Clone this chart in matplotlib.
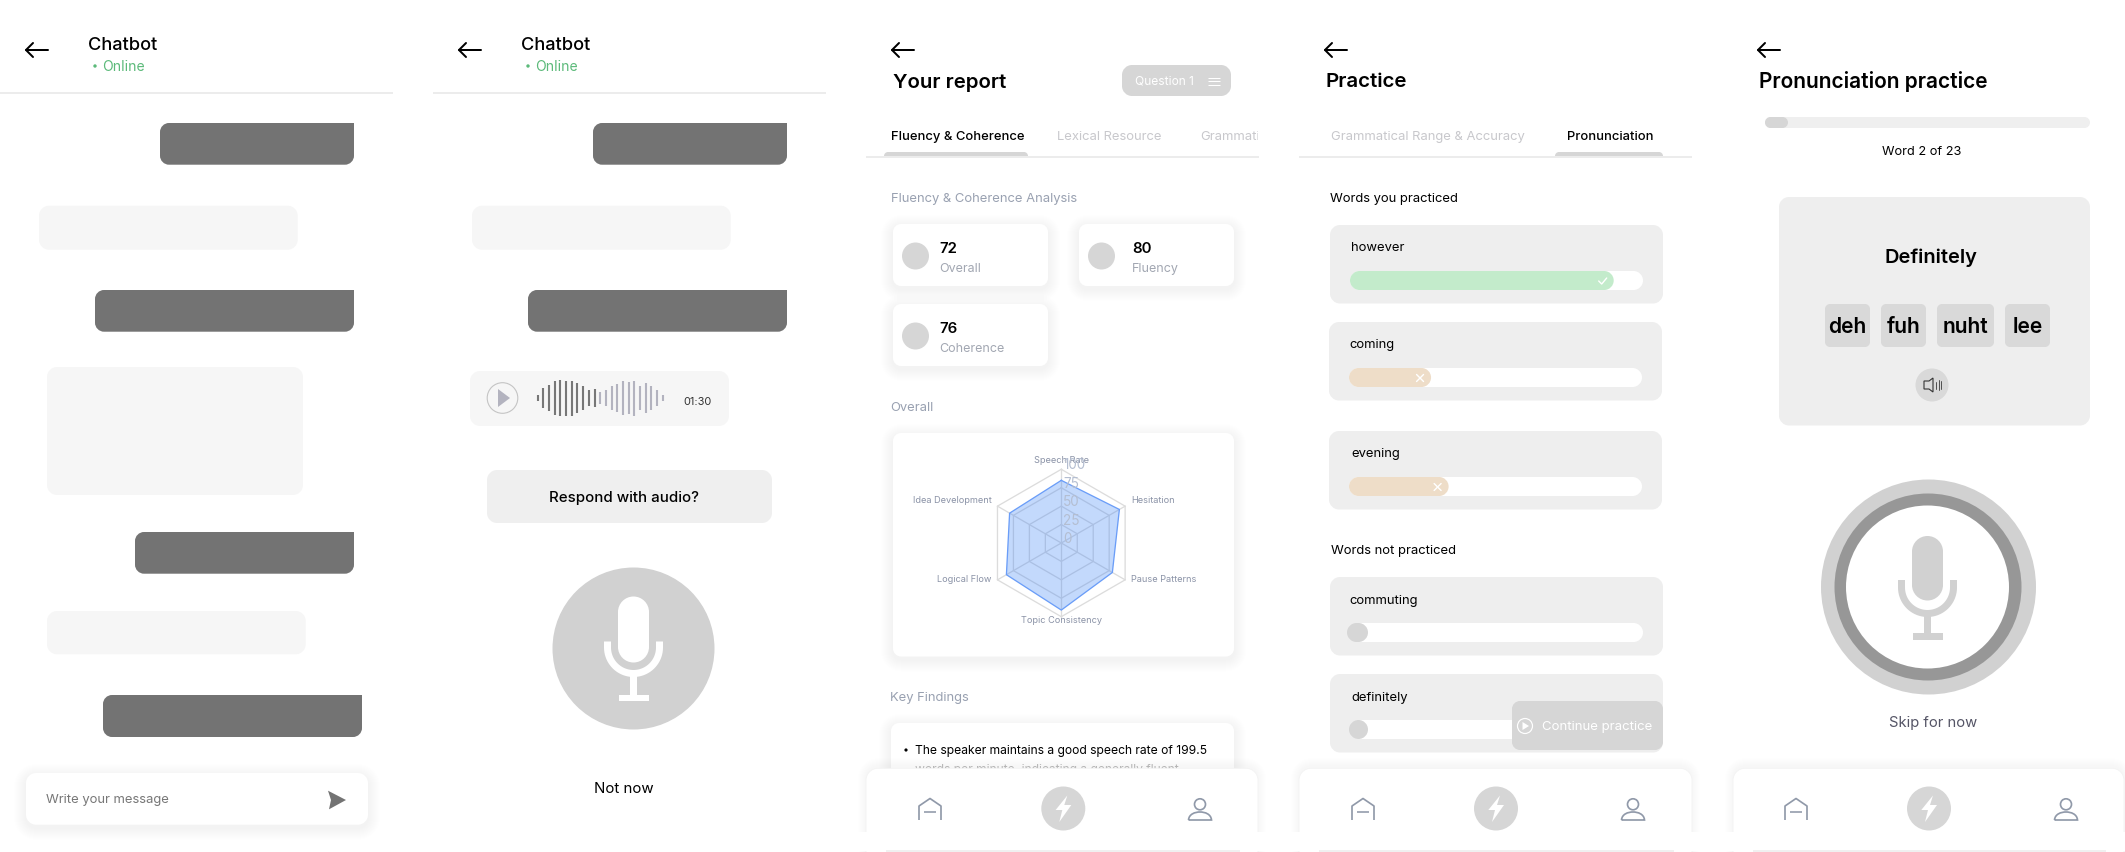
import numpy as np
import matplotlib
matplotlib.use("Agg")
import matplotlib.pyplot as plt
from matplotlib.path import Path
from matplotlib.patches import PathPatch, Circle, Rectangle

plt.rcParams['font.family'] = ['Inter', 'DejaVu Sans']

# ---------- data ----------
RADAR_LABELS = ["Speech Rate", "Hesitation", "Pause Patterns", "Topic Consistency", "Logical Flow", "Idea Development"]
RADAR_VALUES = [85, 91, 80, 91, 86, 81]
RADAR_TICKS = [0, 25, 50, 75, 100]
METRIC_LABELS = ["Overall", "Fluency", "Coherence"]
METRIC_VALUES = [72, 80, 76]
WORDS_PRACTICED = ["however", "coming", "evening"]
WORD_SCORES = [90, 28, 34]
WORDS_NOT_PRACTICED = ["commuting", "definitely"]
SYLLABLES = ["deh", "fuh", "nuht", "lee"]
WAVE_DARK = [20, 58, 80, 100, 110, 105, 105, 90, 70, 50, 55]
WAVE_LIGHT = [35, 50, 70, 85, 100, 95, 105, 70, 90, 70, 50, 20]

W, H = 2125, 852
fig = plt.figure(figsize=(W / 100, H / 100), dpi=100, facecolor='white')
ax = fig.add_axes([0, 0, 1, 1])
ax.set_xlim(0, W)
ax.set_ylim(H, 0)
ax.axis('off')

PX = 0.72
GRAY = '#d6d6d6'
DARK = '#737373'
LIGHT = '#f6f6f6'
CARD = '#eeeeee'
TEXT_DY = 2.3


def rpath(x0, y0, x1, y1, r, square=()):
    v, c = [], []
    rs = {n: (0 if n in square else r) for n in ('tl', 'tr', 'br', 'bl')}
    def k_(n):
        return rs[n] * (1 - 0.5523)
    v.append((x0 + rs['tl'], y0)); c.append(Path.MOVETO)
    v.append((x1 - rs['tr'], y0)); c.append(Path.LINETO)
    v += [(x1 - k_('tr'), y0), (x1, y0 + k_('tr')), (x1, y0 + rs['tr'])]; c += [Path.CURVE4] * 3
    v.append((x1, y1 - rs['br'])); c.append(Path.LINETO)
    v += [(x1, y1 - k_('br')), (x1 - k_('br'), y1), (x1 - rs['br'], y1)]; c += [Path.CURVE4] * 3
    v.append((x0 + rs['bl'], y1)); c.append(Path.LINETO)
    v += [(x0 + k_('bl'), y1), (x0, y1 - k_('bl')), (x0, y1 - rs['bl'])]; c += [Path.CURVE4] * 3
    v.append((x0, y0 + rs['tl'])); c.append(Path.LINETO)
    v += [(x0, y0 + k_('tl')), (x0 + k_('tl'), y0), (x0 + rs['tl'], y0)]; c += [Path.CURVE4] * 3
    v.append((x0 + rs['tl'], y0)); c.append(Path.CLOSEPOLY)
    return Path(v, c)


def box(x0, y0, x1, y1, r=8, fc=CARD, z=2, square=()):
    p = PathPatch(rpath(x0, y0, x1, y1, r, square), fc=fc, ec='none', lw=0, zorder=z)
    ax.add_patch(p)
    return p


def shadow(x0, y0, x1, y1, r=8, z=1, spread=12, dy=3, a=0.005):
    for i in range(spread, 0, -1):
        ax.add_patch(PathPatch(rpath(x0 - i, y0 - i + dy, x1 + i, y1 + i + dy, r + i),
                               fc='#20283c', ec='none', alpha=a, zorder=z))


def card(x0, y0, x1, y1, r=8, z=2, **kw):
    shadow(x0, y0, x1, y1, r, z=z - 0.5, **kw)
    box(x0, y0, x1, y1, r, 'white', z)


def t(x, y, s, px, color='black', weight='normal', ha='left', z=5, **kw):
    return ax.text(x, y + TEXT_DY, s, fontsize=px * PX, color=color, fontweight=weight,
                   ha=ha, va='center', zorder=z, **kw)


def line(xs, ys, color='black', w=2, z=5, cap='round', join='round'):
    ax.plot(xs, ys, color=color, lw=w * PX, zorder=z, solid_capstyle=cap, solid_joinstyle=join)


def circ(cx, cy, r, fc, z=3, ec='none', lw=0):
    ax.add_patch(Circle((cx, cy), r, fc=fc, ec=ec, lw=lw * PX, zorder=z))


def poly(pts, fc, z=5):
    ax.add_patch(plt.Polygon(pts, closed=True, fc=fc, ec='none', zorder=z))


def back(x0):
    y = 50
    line([x0 + 22, x0], [y, y], 'black', 2)
    line([x0 + 7, x0, x0 + 7], [y - 7, y, y + 7], 'black', 2)


def mic(cx, cap_top, cap_bot, u_top, u_cy, stem_bot, base_w, base_h, color, z=6):
    capw = 31
    box(cx - capw / 2, cap_top, cx + capw / 2, cap_bot, capw / 2, color, z)
    R = 26
    th = np.radians(np.linspace(180, 0, 40))
    xs = np.r_[cx - R, cx + R * np.cos(th), cx + R]
    ys = np.r_[u_top, u_cy + R * np.sin(th), u_top]
    ax.plot(xs, ys, color=color, lw=7 * PX, zorder=z, solid_capstyle='butt')
    u_bot = u_cy + R
    ax.add_patch(Rectangle((cx - 3.5, u_bot), 7, stem_bot - u_bot, fc=color, ec='none', zorder=z))
    ax.add_patch(Rectangle((cx - base_w / 2, stem_bot), base_w, base_h, fc=color, ec='none', zorder=z))


def nav(x0, x1, hx, bx, px_):
    shadow(x0, 768.3, x1, 860, 12, z=9.5, spread=8, dy=-2, a=0.004)
    ax.add_patch(PathPatch(rpath(x0, 768.3, x1, 870, 12), fc='white', ec='#f3f3f3', lw=0.6, zorder=10))
    ax.add_patch(Rectangle((x0 - 10, 832.3), x1 - x0 + 20, 19, fc='white', ec='none', zorder=11))
    line([x0 + 20, x1 - 18], [851, 851], '#ececec', 1.5, z=12, cap='butt')
    c = '#9099a9'
    # home
    line([hx, hx, hx + 11, hx + 22, hx + 22], [820, 806, 798.5, 806, 820], c, 1.7, z=12, cap='butt')
    line([hx + 5, hx + 17], [811.7, 811.7], c, 1.6, z=12, cap='butt')
    # bolt
    circ(bx, 808.5, 22, GRAY, z=12)
    poly([(bx + 4, 795.5), (bx - 7.7, 810), (bx - 1, 810), (bx - 4, 822), (bx + 8, 805), (bx + 1, 805)], 'white', z=13)
    # person
    ax.add_patch(Circle((px_, 804.3), 5.5, fc='none', ec=c, lw=1.7 * PX, zorder=12))
    v = [(px_ - 11.5, 820), (px_ + 11.5, 820), (px_ + 11, 814), (px_ + 5, 812), (px_, 812),
         (px_ - 5, 812), (px_ - 11, 814), (px_ - 11.5, 820)]
    cc = [Path.MOVETO, Path.LINETO] + [Path.CURVE4] * 6
    ax.add_patch(PathPatch(Path(v, cc), fc='none', ec=c, lw=1.7 * PX, zorder=12))


# ---------- panels 1 and 2: chat ----------
for off, in [(0,), (433,)]:
    back(26 + off)
    t(88.3 + off, 43, "Chatbot", 18.2, 'black', 500)
    circ(95 + off, 66, 1.7, '#5cba7a')
    t(101.7 + off, 64.8, "Online", 14, '#5cba7a')
    line([off, off + 393], [92.7, 92.7], '#ececec', 2, cap='butt')
    box(160 + off, 123, 354 + off, 164.7, 9, DARK, square=('tr',))
    box(39 + off, 205.7, 297.7 + off, 249.7, 10, LIGHT)
    box(95 + off, 290, 354 + off, 331.7, 9, DARK, square=('tr',))

box(47, 367, 303, 495, 10, LIGHT)
box(135, 532, 354, 573.7, 9, DARK, square=('tr',))
box(47, 611, 305.7, 654.3, 10, LIGHT)
box(103, 695, 362, 737, 9, DARK, square=('tr',))
card(26, 773, 368, 824.7, 10)
t(46, 797.5, "Write your message", 13, '#777777')
poly([(328, 790.7), (346, 800), (329, 809.3), (331, 800)], DARK)

# audio message
box(470, 371, 729, 426, 10, LIGHT)
circ(502.5, 398, 15.3, LIGHT, ec='#c4c4c4', lw=1.1)
poly([(498, 389), (510, 398), (498, 407)], '#b3b3bf', z=5)
all_wave = WAVE_DARK + WAVE_LIGHT
for i, h in enumerate(all_wave):
    xw = 537.7 + i * (662.7 - 537.7) / (len(all_wave) - 1)
    ax.plot([xw, xw], [398 - h / 6, 398 + h / 6], color='#777777' if i < len(WAVE_DARK) else '#b3b3bf',
            lw=2.1 * PX, zorder=5, solid_capstyle='butt')
t(698, 399.5, "01:30", 11, '#333333', ha='center')
box(487, 470, 772, 523, 10, '#efefef')
t(624, 495.5, "Respond with audio?", 15, 'black', 500, ha='center')
circ(633.5, 648.5, 81, '#d1d1d1')
mic(633.5, 596.5, 662.5, 641.5, 647.5, 694.5, 30, 6, 'white')
t(624, 787, "Not now", 15, 'black', ha='center')

# ---------- panel 3: report ----------
back(892)
t(893, 80.5, "Your report", 20.4, 'black', 600)
box(1122, 65, 1231, 96, 10, GRAY)
t(1135, 79, "Question 1", 12, 'white')
for yy in (77.5, 81, 84.5):
    line([1208, 1220], [yy, yy], 'white', 1, cap='butt')
t(891, 135, "Fluency & Coherence", 13, 'black', 500)
t(1057, 135, "Lexical Resource", 13, '#c8c8cc')
txt = t(1200, 135, "Grammatical", 13, '#c8c8cc')
txt.set_clip_on(True)
txt.set_clip_path(Rectangle((866, 100), 392, 60, transform=ax.transData))
line([866, 1259], [156.5, 156.5], '#ececec', 2, cap='butt')
box(884, 152, 1028, 158, 4, GRAY, square=('bl', 'br'))
t(891, 196.5, "Fluency & Coherence Analysis", 13, '#99a1b1')

card_pos = [(893, 224), (1079, 224), (893, 304)]
for (cx0, cy0), lab, val in zip(card_pos, METRIC_LABELS, METRIC_VALUES):
    card(cx0, cy0, cx0 + 155, cy0 + 62, 8)
    circ(cx0 + 22.5, cy0 + 32, 13.5, GRAY)
    t(cx0 + (46.5 if cx0 < 1000 else 53), cy0 + 23, str(val), 15, 'black', 600)
    t(cx0 + (46.5 if cx0 < 1000 else 53), cy0 + 42.5, lab, 12.5, '#a2a7b2')

t(890, 405.5, "Overall", 13, '#99a1b1')
card(893, 433, 1234, 656.5, 8)
t(890, 695.5, "Key Findings", 13, '#99a1b1')
card(891, 723, 1234, 880, 8)
circ(906, 750, 1.6, 'black', z=5)
t(915, 748.5, "The speaker maintains a good speech rate of 199.5", 12.1, 'black')
t(915, 767.5, "words per minute, indicating a generally fluent", 12.1, '#bdbdbd')
nav(866, 1258, 919, 1063.3, 1200)

# radar
cx_r, cy_r, R_r = 1061.3, 543, 73.7
rax = fig.add_axes([(cx_r - R_r) / W, 1 - (cy_r + R_r) / H, 2 * R_r / W, 2 * R_r / H], projection='polar')
rax.set_theta_zero_location('N')
rax.set_theta_direction(-1)
rax.set_ylim(0, 100)
rax.axis('off')
rax.patch.set_alpha(0)
ang = np.linspace(0, 2 * np.pi, len(RADAR_LABELS), endpoint=False)
ang_c = np.r_[ang, ang[0]]
for level in RADAR_TICKS[1:]:
    rax.plot(ang_c, [level] * len(ang_c), color='#dcdcdc', lw=1.3 * PX, zorder=2, clip_on=False)
for a in ang:
    rax.plot([a, a], [0, 100], color='#dcdcdc', lw=1.3 * PX, zorder=2, clip_on=False)
vals_c = RADAR_VALUES + RADAR_VALUES[:1]
rax.fill(ang_c, vals_c, color='#3b82f6', alpha=0.30, lw=0, zorder=3, clip_on=False)
rax.plot(ang_c, vals_c, color='#6a9df8', lw=1.3 * PX, zorder=4, clip_on=False)
offsets = [(0, 9), (6, 6), (6, 0), (0, -4), (-6, 0), (-6, 6)]
aligns = ['center', 'left', 'left', 'center', 'right', 'right']
for a, lab, off_, ha_ in zip(ang, RADAR_LABELS, offsets, aligns):
    rax.annotate(lab, (a, 100), xytext=(off_[0] * PX, off_[1] * PX), textcoords='offset points',
                 fontsize=9.2 * PX, color='#8b93a7', ha=ha_, va='center', zorder=6, annotation_clip=False)
for tk in RADAR_TICKS:
    rax.annotate(str(tk), (0, tk), xytext=(2 * PX, 4 * PX), textcoords='offset points',
                 fontsize=13.5 * PX, color='#b4bed1', ha='left', va='center', zorder=6, annotation_clip=False)

# ---------- panel 4: practice ----------
back(1325)
t(1325.5, 80, "Practice", 20.5, 'black', 600)
t(1331, 134.5, "Grammatical Range & Accuracy", 13, '#c8c8cc')
t(1567, 134.5, "Pronunciation", 13, 'black', 500)
line([1299, 1692], [156.5, 156.5], '#ececec', 2, cap='butt')
box(1555, 152, 1663, 158, 4, GRAY, square=('bl', 'br'))
t(1330, 196.5, "Words you practiced", 13, 'black')

word_card = [(1330, 225, 1350.5), (1329, 322, 1349), (1329, 431, 1351)]
for (cx0, cy0, tx), word, score in zip(word_card, WORDS_PRACTICED, WORD_SCORES):
    box(cx0, cy0, cx0 + 333, cy0 + 78.5, 10, CARD)
    t(tx, cy0 + 21, word, 13, 'black')
    tx0, tx1 = cx0 + 20, cx0 + 313
    box(tx0, cy0 + 46, tx1, cy0 + 65, 9.5, 'white', 3)
    fill = tx0 + (tx1 - tx0) * score / 100
    good = score >= 50
    box(tx0, cy0 + 46, fill, cy0 + 65, 9.5, '#c3ebcb' if good else '#eeddc8', 4)
    mx, my = fill - 11, cy0 + 56
    if good:
        line([mx - 4, mx - 1, mx + 4], [my, my + 3, my - 3], 'white', 1.4)
    else:
        line([mx - 3.5, mx + 3.5], [my - 3.5, my + 3.5], 'white', 1.4)
        line([mx - 3.5, mx + 3.5], [my + 3.5, my - 3.5], 'white', 1.4)

t(1331, 548.5, "Words not practiced", 13, 'black')
rest_card = [(1330, 577, 1349, 1347), (1330, 674, 1351, 1349)]
for (cx0, cy0, tx, dx0), word in zip(rest_card, WORDS_NOT_PRACTICED):
    box(cx0, cy0, cx0 + 333, cy0 + 78.5, 10, CARD)
    t(tx, cy0 + 21.5, word, 13, 'black')
    box(cx0 + 20, cy0 + 46, cx0 + 313, cy0 + 65, 9.5, 'white', 3)
    box(dx0, cy0 + 46, 1368, cy0 + 65, 9.5, GRAY, 4)
box(1512, 701, 1663, 750, 8, GRAY, 6)
circ(1525, 726, 7.5, GRAY, z=7, ec='white', lw=1.2)
poly([(1522.5, 722), (1529, 726), (1522.5, 730)], 'white', z=8)
t(1542, 725, "Continue practice", 13.2, 'white', z=8)
nav(1299, 1692, 1352, 1496, 1633)

# ---------- panel 5: pronunciation ----------
back(1758)
t(1759, 79.5, "Pronunciation practice", 20.9, 'black', 600)
box(1765, 117, 2090, 128, 5.5, '#efefef')
box(1765, 117, 1788, 128, 5.5, GRAY, 3)
t(1922, 150, "Word 2 of 23", 12.7, 'black', ha='center')
box(1779, 197, 2090, 425.5, 10, CARD)
t(1931, 255.5, "Definitely", 20, 'black', 600, ha='center')
chip_x = [(1825, 1870), (1881, 1926), (1937, 1994), (2005, 2050)]
for (a_, b_), syl in zip(chip_x, SYLLABLES):
    box(a_, 304, b_, 347, 5, '#d9d9d9', 3)
    t((a_ + b_) / 2, 325, syl, 21, 'black', 600, ha='center')
circ(1932, 385, 16.5, '#d9d9d9')
ax.add_patch(plt.Polygon([(1924, 381), (1929, 381), (1933, 378), (1933, 392), (1929, 389), (1924, 389)],
                         closed=True, fc='none', ec='#333333', lw=1.1 * PX, zorder=5))
for xs_, hh in ((1936, 3.5), (1938.5, 5), (1940.5, 4)):
    line([xs_, xs_], [385 - hh, 385 + hh], '#444444', 0.9)
circ(1928.5, 587, 107.5, '#d1d1d1', z=3)
circ(1928, 587, 93.5, '#979797', z=3.1)
circ(1927.5, 587, 81.5, 'white', z=3.2)
mic(1927.5, 536, 600.5, 580, 587.5, 633, 30, 7, '#d1d1d1')
t(1933, 720.5, "Skip for now", 14.8, '#555566', ha='center')
nav(1733, 2124, 1785, 1929, 2066)

fig.savefig('out.png', dpi=100, facecolor='white')
